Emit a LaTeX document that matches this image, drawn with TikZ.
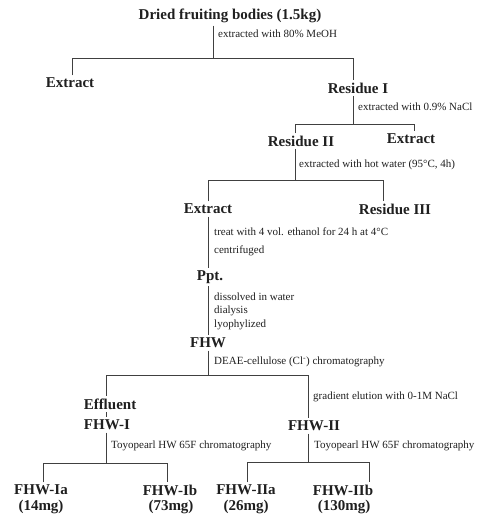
\documentclass[tikz,border=0pt]{standalone}
\usepackage{fontspec}
\setmainfont{Liberation Serif}
\begin{document}
\tikzset{
  big/.style={font=\bfseries\fontsize{15}{17}\selectfont, inner xsep=0pt, inner ysep=2.5pt, text=black!88},
  lab/.style={font=\fontsize{11}{12}\selectfont, inner sep=0pt, anchor=west, text=black!88},
  ln/.style={draw=black!75, line width=0.8pt},
}
\begin{tikzpicture}[x=1pt,y=-1pt]
\useasboundingbox (0,0) rectangle (489,516);
% nodes
\node[big] (title) at (230,16) {Dried fruiting bodies (1.5kg)};
\node[lab] (l1) at (218,34) {extracted with 80\% MeOH};
\node[big] (ext1) at (70,83) {Extract};
\node[big] (res1) at (358,88) {Residue I};
\node[lab] (l2) at (358,107) {extracted with 0.9\% NaCl};
\node[big] (res2) at (301,141) {Residue II};
\node[big] (ext2) at (411,139) {Extract};
\node[lab] (l3) at (299,165) {extracted with hot water (95\textdegree C, 4h)};
\node[big] (ext3) at (208,209) {Extract};
\node[big] (res3) at (395,209) {Residue III};
\node[lab] (l4) at (214,232) {treat with 4 vol. ethanol for 24 h at 4\textdegree C};
\node[lab] (l5) at (214,251) {centrifuged};
\node[big] (ppt) at (210,277) {Ppt.};
\node[lab] (l6) at (214,297) {dissolved in water};
\node[lab] (l7) at (214,311) {dialysis};
\node[lab] (l8) at (214,325) {lyophylized};
\node[big] (fhw) at (208,343) {FHW};
\node[lab] (l9) at (214,362) {DEAE-cellulose (Cl\textsuperscript{-}) chromatography};
\node[big] (eff) at (110,404) {Effluent};
\node[lab] (l10) at (313,397) {gradient elution with 0-1M NaCl};
\node[big] (fhw1) at (107,425) {FHW-I};
\node[big] (fhw2) at (314,426) {FHW-II};
\node[lab] (l11) at (111,446) {Toyopearl HW 65F chromatography};
\node[lab] (l12) at (314,446) {Toyopearl HW 65F chromatography};
\node[big] (f1a) at (41,490) {FHW-Ia};
\node[big] (m1a) at (41,507) {(14mg)};
\node[big] (f1b) at (170,490) {FHW-Ib};
\node[big] (m1b) at (171,507) {(73mg)};
\node[big] (f2a) at (246,490) {FHW-IIa};
\node[big] (m2a) at (246,507) {(26mg)};
\node[big] (f2b) at (343,490) {FHW-IIb};
\node[big] (m2b) at (344,507) {(130mg)};
% junction coordinates
\coordinate (j1) at (213,58);
\coordinate (h1a) at (72,58);
\coordinate (h1b) at (353,58);
\coordinate (j2) at (353,124);
\coordinate (h2a) at (295,124);
\coordinate (h2b) at (414,124);
\coordinate (j3) at (295,180);
\coordinate (h3a) at (208,180);
\coordinate (h3b) at (383,180);
\coordinate (v4) at (208,0);
\coordinate (j4) at (208,375);
\coordinate (h4a) at (106,375);
\coordinate (h4b) at (308,375);
\coordinate (j5) at (106,463);
\coordinate (h5a) at (43,463);
\coordinate (h5b) at (167,463);
\coordinate (j6) at (308,462);
\coordinate (h6a) at (247,462);
\coordinate (h6b) at (369,462);
% connectors
\draw[ln] (title.south -| j1) -- (j1);
\draw[ln] (ext1.north -| h1a) -- (h1a) -- (h1b) -- (res1.north -| h1b);
\draw[ln] (res1.south -| j2) -- (j2);
\draw[ln] (res2.north -| h2a) -- (h2a) -- (h2b) -- (ext2.north -| h2b);
\draw[ln] (res2.south -| j3) -- (j3);
\draw[ln] (ext3.north -| h3a) -- (h3a) -- (h3b) -- (res3.north -| h3b);
\draw[ln] (ext3.south -| v4) -- (ppt.north -| v4);
\draw[ln] (ppt.south -| v4) -- (fhw.north -| v4);
\draw[ln] (fhw.south -| j4) -- (j4);
\draw[ln] (eff.north -| h4a) -- (h4a) -- (h4b) -- (fhw2.north -| h4b);
\draw[ln] (eff.south -| h4a) -- (fhw1.north -| h4a);
\draw[ln] (fhw1.south -| j5) -- (j5);
\draw[ln] (f1a.north -| h5a) -- (h5a) -- (h5b) -- (f1b.north -| h5b);
\draw[ln] (fhw2.south -| j6) -- (j6);
\draw[ln] (f2a.north -| h6a) -- (h6a) -- (h6b) -- (f2b.north -| h6b);
\end{tikzpicture}
\end{document}
